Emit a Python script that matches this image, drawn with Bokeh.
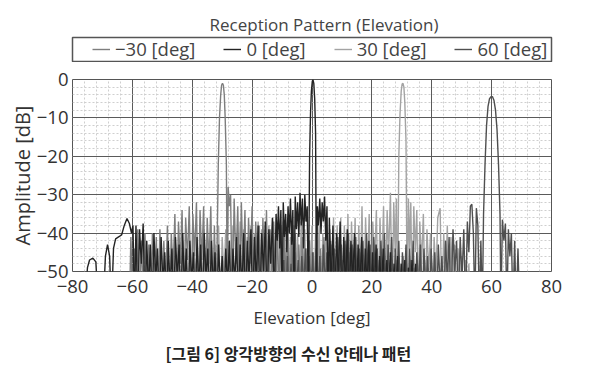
from bokeh.plotting import figure
from bokeh.layouts import column
from bokeh.models import Range1d, SingleIntervalTicker, Legend, LegendItem, Title
from bokeh.embed import file_html
from bokeh.resources import INLINE

# ---------------- data ----------------
SERIES_NAMES = ["\u221230 [deg]", "0 [deg]", "30 [deg]", "60 [deg]"]
SERIES_COLORS = ["#7e7e7e", "#232323", "#a3a3a3", "#4f4f4f"]

# steering -30 deg : (elevation, amplitude dB)
M30_PTS = [(-61.0,-60),(-60.5,-41),(-59.9,-60),(-59.3,-44),(-58.8,-60),(-58.2,-39),(-57.6,-60),(-57.0,-42),
 (-56.4,-55),(-55.8,-40),(-55.1,-60),(-54.5,-43),(-53.9,-60),(-53.3,-40),(-52.6,-52),(-52.0,-41),(-51.4,-60),
 (-50.8,-39),(-50.1,-60),(-49.5,-42),(-48.9,-55),(-48.3,-38),(-47.6,-60),(-47.0,-40),(-46.4,-50),(-45.8,-35),
 (-45.2,-60),(-44.6,-37),(-44.0,-48),(-43.4,-34),(-42.8,-60),(-42.2,-36),(-41.6,-47),(-41.0,-33),(-40.4,-60),
 (-39.8,-35),(-39.2,-46),(-38.6,-32),(-38.0,-60),(-37.4,-34),(-36.8,-47),(-36.2,-33),(-35.6,-60),(-35.0,-36),
 (-34.4,-48),(-33.8,-33),(-33.2,-60),(-32.6,-38),(-32.0,-60),(-31.3,-22),(-30.9,-10),(-30.5,-4),(-30.2,-1.5),
 (-29.9,-1),(-29.6,-1.5),(-29.3,-4),(-29.0,-10),(-28.6,-22),(-28.3,-60),(-28.0,-28),(-27.6,-33),(-27.2,-30),
 (-26.6,-60),(-26.0,-31),(-25.4,-48),(-24.8,-33),(-24.2,-60),(-23.6,-32),(-23.0,-50),(-22.4,-34),(-21.8,-60),
 (-21.2,-36),(-20.6,-48),(-20.0,-33),(-19.4,-60),(-18.8,-37),(-18.2,-50),(-17.6,-38),(-17.0,-60),(-16.4,-36),
 (-15.8,-52),(-15.2,-34),(-14.6,-60),(-14.0,-39),(-13.4,-52),(-12.8,-37),(-12.2,-60),(-11.6,-40),(-11.0,-55),
 (-10.4,-38),(-9.8,-60),(-9.2,-41),(-8.6,-53),(-8.0,-39),(-7.4,-60),(-6.8,-42),(-6.2,-55),(-5.6,-40),(-5.0,-60),
 (-4.4,-43),(-3.8,-56),(-3.2,-41),(-2.6,-60),(-2.0,-44),(-1.4,-55),(-0.8,-42),(-0.2,-60),(0.4,-45),(1.0,-56),
 (1.6,-42),(2.2,-60),(2.8,-44),(3.4,-55),(4.0,-41),(4.6,-60),(5.2,-45),(5.8,-55),(6.4,-43),(7.0,-60),(7.6,-46),
 (8.2,-56),(8.8,-44),(9.4,-60),(10.0,-47),(10.6,-55),(11.2,-43),(11.8,-60),(12.4,-45),(13.0,-57),(13.6,-44),
 (14.2,-60),(14.8,-47),(15.4,-56),(16.0,-45),(16.6,-60),(17.2,-48),(17.8,-57),(18.4,-46),(19.0,-60),(19.6,-48),
 (20.2,-58),(20.8,-45),(21.4,-60),(22.0,-47),(22.6,-57),(23.2,-46),(23.8,-60),(24.4,-48),(25.0,-58),(25.6,-47),
 (26.2,-60),(26.8,-49),(27.4,-58),(28.0,-47),(28.6,-60),(29.2,-48),(29.8,-58),(30.4,-46),(31.0,-60),(31.6,-48),
 (32.2,-58),(32.8,-47),(33.4,-60),(34.0,-49),(34.6,-58),(35.2,-47),(35.8,-60),(36.4,-48),(37.0,-60),(37.6,-47),
 (38.2,-60),(38.8,-49),(39.4,-60)]

# steering 0 deg
Z0_PTS = [(-76.0,-60),(-75.0,-49),(-74.3,-47),(-73.2,-46.5),(-72.2,-47.5),(-71.3,-60),(-69.8,-60),(-69.0,-46),
 (-68.3,-43),(-67.6,-46),(-67.0,-60),(-66.3,-44),(-65.6,-41.5),(-64.6,-41),(-63.6,-40.5),(-62.7,-38),(-61.8,-36.2),
 (-61.0,-37.5),(-60.3,-40),(-59.8,-38),(-59.3,-60),(-58.8,-38),(-58.2,-60),(-57.6,-39),(-57.0,-48),(-56.4,-37.5),
 (-55.8,-60),(-55.2,-42),(-54.6,-55),(-54.0,-43),(-53.4,-60),(-52.8,-40),(-52.2,-52),(-51.6,-44),(-51.0,-60),
 (-50.4,-41),(-49.8,-53),(-49.2,-45),(-48.6,-60),(-48.0,-42),(-47.4,-55),(-46.8,-44),(-46.2,-60),(-45.6,-41),
 (-45.0,-52),(-44.4,-43),(-43.8,-60),(-43.2,-40),(-42.6,-55),(-42.0,-44),(-41.4,-60),(-40.8,-42),(-40.2,-53),
 (-39.6,-45),(-39.0,-60),(-38.4,-41),(-37.8,-55),(-37.2,-43),(-36.6,-60),(-36.0,-40),(-35.4,-52),(-34.8,-44),
 (-34.2,-60),(-33.6,-42),(-33.0,-55),(-32.4,-45),(-31.8,-60),(-31.2,-43),(-30.6,-55),(-30.0,-46),(-29.4,-60),
 (-28.8,-44),(-28.2,-54),(-27.6,-42),(-27.0,-60),(-26.4,-44),(-25.8,-53),(-25.2,-41),(-24.6,-60),(-24.0,-43),
 (-23.4,-55),(-22.8,-40),(-22.2,-60),(-21.6,-42),(-21.0,-52),(-20.4,-39),(-19.8,-60),(-19.2,-41),(-18.6,-53),
 (-18.0,-38),(-17.4,-60),(-16.8,-40),(-16.2,-50),(-15.6,-37),(-15.0,-60),(-14.4,-39),(-13.8,-48),(-13.2,-36),
 (-12.6,-60),(-12.0,-35),(-11.6,-42),(-11.2,-33),(-10.8,-44),(-10.4,-34),(-10.0,-60),(-9.6,-32),(-9.2,-41),
 (-8.8,-35),(-8.4,-45),(-8.0,-33),(-7.6,-40),(-7.2,-31),(-6.8,-43),(-6.4,-34),(-6.0,-60),(-5.6,-30.5),(-5.2,-39),
 (-4.8,-32),(-4.4,-41),(-4.0,-29.5),(-3.6,-38),(-3.2,-31),(-2.8,-44),(-2.4,-30),(-2.0,-37),(-1.6,-33),(-1.2,-60),
 (-0.8,-20),(-0.5,-9),(-0.2,-3),(0.1,-0.5),(0.3,0),(0.6,-1),(0.9,-5),(1.2,-14),(1.5,-60),
 (1.8,-33),(2.2,-38),(2.6,-31),(3.0,-40),(3.4,-32),(3.8,-37),(4.2,-30.5),(4.6,-42),(5.0,-33),(5.4,-60),(5.8,-36),
 (6.4,-55),(7.0,-38),(7.6,-60),(8.2,-40),(8.8,-52),(9.4,-37),(10.0,-60),(10.6,-41),(11.2,-55),(11.8,-39),
 (12.4,-60),(13.0,-42),(13.6,-53),(14.2,-40),(14.8,-60),(15.4,-43),(16.0,-55),(16.6,-41),(17.2,-60),(17.8,-44),
 (18.4,-54),(19.0,-42),(19.6,-60),(20.2,-45),(20.8,-56),(21.4,-43),(22.0,-60),(22.6,-46),(23.2,-55),(23.8,-44),
 (24.4,-60),(25.0,-47),(25.6,-56),(26.2,-45),(26.8,-60),(27.4,-48),(28.0,-57),(28.6,-46),(29.2,-60),(29.8,-48),
 (30.4,-57),(31.0,-47),(31.6,-60),(32.2,-49),(32.8,-58),(33.4,-47),(34.0,-60),(34.6,-48),(35.2,-60)]

# steering 30 deg
P30_PTS = [(-45.0,-60),(-44.4,-44),(-43.8,-60),(-43.2,-42),(-42.6,-55),(-42.0,-45),(-41.4,-60),(-40.8,-43),
 (-40.2,-60),(-39.6,-40),(-39.0,-52),(-38.4,-44),(-37.8,-60),(-37.2,-41),(-36.6,-55),(-36.0,-39),(-35.4,-60),
 (-34.8,-42),(-34.2,-53),(-33.6,-40),(-33.0,-60),(-32.4,-43),(-31.8,-55),(-31.2,-38),(-30.6,-60),(-30.0,-41),
 (-29.4,-52),(-28.8,-39),(-28.2,-60),(-27.6,-42),(-27.0,-55),(-26.4,-38),(-25.8,-60),(-25.2,-40),(-24.6,-52),
 (-24.0,-37),(-23.4,-60),(-22.8,-39),(-22.2,-55),(-21.6,-41),(-21.0,-60),(-20.4,-38),(-19.8,-50),(-19.2,-40),
 (-18.6,-60),(-18.0,-37),(-17.4,-52),(-16.8,-39),(-16.2,-60),(-15.6,-41),(-15.0,-55),(-14.4,-38),(-13.8,-60),
 (-13.2,-36),(-12.6,-50),(-12.0,-39),(-11.4,-60),(-10.8,-40),(-10.2,-53),(-9.6,-37),(-9.0,-60),(-8.4,-39),
 (-7.8,-55),(-7.2,-41),(-6.6,-60),(-6.0,-38),(-5.4,-52),(-4.8,-40),(-4.2,-60),(-3.6,-37),(-3.0,-54),(-2.4,-39),
 (-1.8,-60),(-1.2,-41),(-0.6,-55),(0.0,-38),(0.6,-60),(1.2,-40),(1.8,-53),(2.4,-38),(3.0,-60),(3.6,-40),
 (4.2,-52),(4.8,-37),(5.4,-60),(6.0,-39),(6.6,-54),(7.2,-36),(7.8,-60),(8.4,-38),(9.0,-52),(9.6,-36),(10.2,-60),
 (10.8,-38),(11.4,-50),(12.0,-35),(12.6,-60),(13.2,-37),(13.8,-52),(14.4,-36),(15.0,-60),(15.6,-38),(16.2,-50),
 (16.7,-33),(17.3,-60),(17.9,-36),(18.5,-52),(19.1,-35),(19.7,-60),(20.3,-37),(20.9,-48),(21.5,-34),(22.1,-60),
 (22.7,-36),(23.3,-50),(23.9,-33),(24.5,-60),(25.1,-34),(25.6,-46),(26.2,-29.5),(26.8,-60),(27.3,-32),(27.8,-45),
 (28.2,-31),(28.6,-60),(29.0,-20),(29.4,-9),(29.8,-3),(30.1,-1.2),(30.4,-1),(30.7,-2),(31.0,-6),(31.4,-16),
 (31.8,-60),(32.2,-31),(32.6,-44),(33.0,-32),(33.5,-60),(34.0,-33),(34.5,-45),(35.0,-34),(35.5,-60),(36.0,-37),
 (36.6,-48),(37.2,-35),(37.8,-60),(38.4,-39),(39.0,-50),(39.6,-40),(40.2,-60),(40.8,-41),(41.4,-52),(42.0,-36),
 (42.8,-33.5),(43.4,-60),(44.0,-40),(44.6,-53),(45.2,-38),(45.8,-60),(46.4,-41),(47.0,-55),(47.6,-43),(48.2,-60),
 (48.8,-44),(49.4,-56),(50.0,-46),(50.6,-60),(51.2,-47),(51.8,-60),(52.4,-48),(53.0,-60)]

# steering 60 deg
P60_PTS = [(-10.0,-60),(-9.4,-47),(-8.8,-60),(-8.2,-46),(-7.6,-57),(-7.0,-48),(-6.4,-60),(-5.8,-45),(-5.2,-56),
 (-4.6,-47),(-4.0,-60),(-3.4,-46),(-2.8,-55),(-2.2,-44),(-1.6,-60),(-1.0,-46),(-0.4,-57),(0.2,-45),(0.8,-60),
 (1.4,-44),(2.0,-55),(2.6,-46),(3.2,-60),(3.8,-43),(4.4,-54),(5.0,-45),(5.6,-60),(6.2,-42),(6.8,-53),(7.4,-44),
 (8.0,-60),(8.6,-41),(9.2,-52),(9.8,-43),(10.4,-60),(11.0,-42),(11.6,-54),(12.2,-40),(12.8,-60),(13.4,-43),
 (14.0,-55),(14.6,-41),(15.2,-60),(15.8,-44),(16.4,-53),(17.0,-42),(17.6,-60),(18.2,-40),(18.8,-52),(19.4,-43),
 (20.0,-60),(20.6,-41),(21.2,-54),(21.8,-44),(22.4,-60),(23.0,-42),(23.6,-55),(24.2,-40),(24.8,-60),(25.4,-43),
 (26.0,-53),(26.6,-41),(27.2,-60),(27.8,-44),(28.4,-55),(29.0,-42),(29.6,-60),(30.2,-45),(30.8,-54),(31.4,-43),
 (32.0,-60),(32.6,-44),(33.2,-56),(33.8,-42),(34.4,-60),(35.0,-45),(35.6,-55),(36.2,-43),(36.8,-60),(37.4,-44),
 (38.0,-56),(38.6,-46),(39.2,-60),(39.8,-44),(40.4,-55),(41.0,-45),(41.6,-60),(42.2,-43),(42.8,-54),(43.4,-46),
 (44.0,-60),(44.6,-42),(45.2,-52),(45.8,-41),(46.4,-60),(47.1,-39),(47.7,-50),(48.3,-42),(48.9,-60),(49.5,-41),
 (50.1,-52),(50.7,-39),(51.3,-60),(51.9,-37),(52.4,-45),(52.9,-33),(53.4,-32.5),(53.9,-40),(54.4,-60),
 (54.9,-33.5),(55.4,-38),(55.9,-60),(56.4,-42),(56.9,-60),(57.3,-35),(57.8,-22),(58.3,-12),(58.8,-7),(59.3,-5),
 (59.8,-4.5),(60.3,-4.5),(60.8,-5.5),(61.3,-8),(61.8,-13),(62.3,-22),(62.8,-35),(63.1,-60),(63.6,-36.5),
 (64.1,-42),(64.6,-37.5),(65.1,-60),(65.6,-39),(66.1,-46),(66.6,-40),(67.1,-60),(67.7,-42),(68.2,-60),
 (68.8,-44),(69.4,-60)]

X_TICKS = [-80, -60, -40, -20, 0, 20, 40, 60, 80]
X_TICK_LABELS = ["\u221280", "\u221260", "\u221240", "\u221220", "0", "20", "40", "60", "80"]
Y_TICKS = [0, -10, -20, -30, -40, -50]
Y_TICK_LABELS = ["0", "\u221210", "\u221220", "\u221230", "\u221240", "\u221250"]

TITLE = "Reception Pattern (Elevation)"
X_LABEL = "Elevation [deg]"
Y_LABEL = "Amplitude [dB]"
CAPTION = "[그림 6] 앙각방향의 수신 안테나 패턴"

FONT = "Open Sans"
SERIES_PTS = [M30_PTS, Z0_PTS, P30_PTS, P60_PTS]

# ---------------- header: title + legend box ----------------
# (the header's ranges lie above every value, so its copies of the series only feed the legend glyphs)
head = figure(width=600, height=62, x_range=Range1d(-80, 80), y_range=Range1d(10, 11),
              x_axis_type=None, y_axis_type=None, output_backend="svg", toolbar_location=None,
              title=None, min_border_left=70, min_border_right=44, min_border_top=37, min_border_bottom=1)
head.grid.visible = False
head.background_fill_color = "white"
head.border_fill_color = "white"
head.outline_line_color = "#555555"
head.outline_line_width = 1.5

head_renderers = []
for i, pts in enumerate(SERIES_PTS):
    head_renderers.append(head.line([a for a, b in pts], [b for a, b in pts],
                                    line_color=SERIES_COLORS[i], line_width=1.4))
legend = Legend(items=[LegendItem(label=SERIES_NAMES[i], renderers=[head_renderers[i]]) for i in range(4)],
                orientation="horizontal", location=(20, 0), margin=0, padding=0,
                spacing=28, glyph_width=18, glyph_height=20, label_height=20, label_standoff=5,
                label_text_font=FONT, label_text_font_size="18.5px", label_text_color="#444444",
                border_line_color=None, background_fill_alpha=0.0)
head.add_layout(legend)
head.add_layout(Title(text=TITLE, align="left", offset=137, standoff=3,
                      text_font=FONT, text_font_size="17px", text_font_style="normal",
                      text_color="#444444"), "above")

# ---------------- main plot ----------------
p = figure(width=600, height=309, x_range=Range1d(-80, 80), y_range=Range1d(-50, 0),
           output_backend="svg", toolbar_location=None, title=None,
           min_border_left=72, min_border_right=49, min_border_top=17, min_border_bottom=100)
p.background_fill_color = "white"
p.border_fill_color = "white"
p.outline_line_color = "#555555"
p.outline_line_width = 1

p.xaxis.ticker = SingleIntervalTicker(interval=20, num_minor_ticks=5)
p.yaxis.ticker = SingleIntervalTicker(interval=10, num_minor_ticks=5)
p.xaxis.major_label_overrides = {t: s for t, s in zip(X_TICKS, X_TICK_LABELS)}
p.yaxis.major_label_overrides = {t: s for t, s in zip(Y_TICKS, Y_TICK_LABELS)}
for ax in (p.xaxis, p.yaxis):
    ax.axis_line_color = None
    ax.major_tick_line_color = None
    ax.minor_tick_line_color = None
    ax.major_tick_out = 0
    ax.major_tick_in = 0
    ax.minor_tick_out = 0
    ax.major_label_text_font = FONT
    ax.major_label_text_font_size = "18.5px"
    ax.major_label_text_color = "#333333"
    ax.axis_label_text_font = FONT
    ax.axis_label_text_font_style = "normal"
    ax.axis_label_text_color = "#333333"
p.xaxis.major_label_standoff = 8
p.yaxis.major_label_standoff = 4
p.xaxis.axis_label = X_LABEL
p.xaxis.axis_label_text_font_size = "17px"
p.xaxis.axis_label_standoff = 10
p.yaxis.axis_label = Y_LABEL
p.yaxis.axis_label_text_font_size = "20px"
p.yaxis.axis_label_standoff = -2

for g in (p.xgrid, p.ygrid):
    g.grid_line_color = "#5a5a5a"
    g.grid_line_width = 1
    g.minor_grid_line_color = "#cfcfcf"
    g.minor_grid_line_dash = "2 2"
    g.minor_grid_line_width = 1

for idx in (2, 0, 3, 1):
    pts = SERIES_PTS[idx]
    p.line([a for a, b in pts], [b for a, b in pts], line_color=SERIES_COLORS[idx], line_width=1.4)

p.add_layout(Title(text=CAPTION, align="left", offset=93, standoff=14,
                   text_font="Noto Sans CJK KR", text_font_size="16px", text_font_style="bold",
                   text_color="#222222"), "below")

layout = column(head, p, spacing=0)
open("out.html", "w").write(file_html(layout, INLINE))
